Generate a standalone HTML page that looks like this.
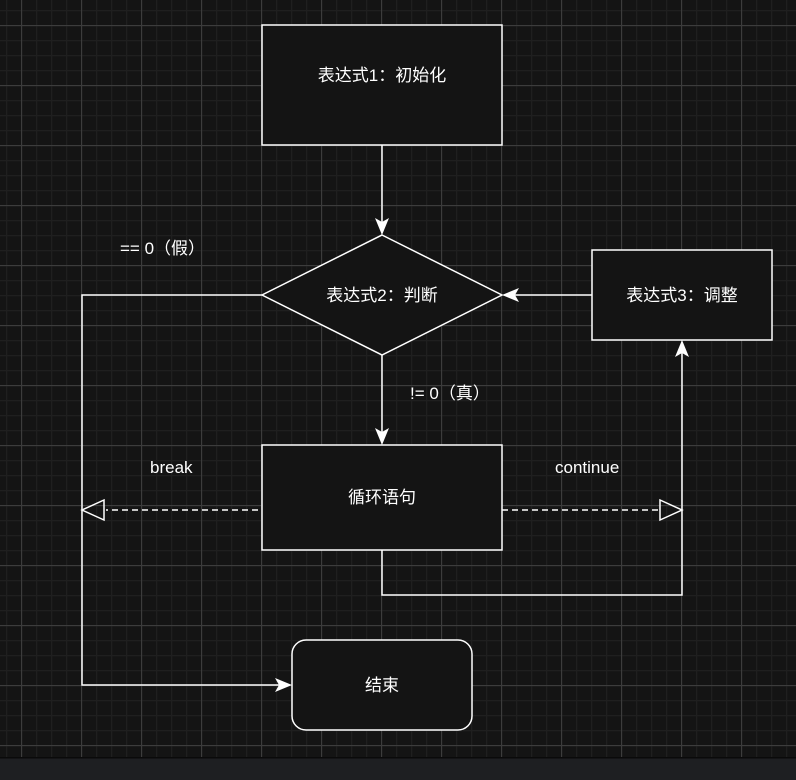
<!DOCTYPE html>
<html><head><meta charset="utf-8"><style>
html,body{margin:0;padding:0;background:#141414;}
svg{display:block;}
text{font-family:"Liberation Sans","Noto Sans CJK SC",sans-serif;fill:#fff;font-size:17px;}
</style></head><body>
<svg width="796" height="780" viewBox="0 0 796 780" xmlns="http://www.w3.org/2000/svg">
<defs>
<pattern id="minor" x="6" y="10" width="15" height="15" patternUnits="userSpaceOnUse">
<path d="M0 0.5H15M0.5 0V15" stroke="#1f1f1f" stroke-width="1.5" fill="none"/>
</pattern>
<pattern id="major" x="21" y="25" width="60" height="60" patternUnits="userSpaceOnUse">
<path d="M0 0.5H60M0.5 0V60" stroke="#3c3c3c" stroke-width="1.2" fill="none"/>
</pattern>
</defs>
<rect width="796" height="758" fill="#141414"/>
<rect width="796" height="758" fill="url(#minor)"/>
<rect width="796" height="758" fill="url(#major)"/>
<rect y="758" width="796" height="22" fill="#1e1f22"/>
<rect y="757" width="796" height="1.5" fill="#0a0a0a"/>

<g stroke="#fff" stroke-width="1.5" fill="#141414">
<rect x="262" y="25" width="240" height="120"/>
<polygon points="382,235 502,295 382,355 262,295"/>
<rect x="592" y="250" width="180" height="90"/>
<rect x="262" y="445" width="240" height="105"/>
<rect x="292" y="640" width="180" height="90" rx="14"/>
</g>
<g stroke="#fff" stroke-width="1.5" fill="none">
<path d="M382 145V228"/>
<path d="M592 295H509"/>
<path d="M382 355V438"/>
<path d="M262 295H82V685H285"/>
<path d="M382 550V595H682V347"/>
<path d="M258 510H106" stroke-dasharray="6,4"/>
<path d="M502 510H660" stroke-dasharray="6,4"/>
<polygon points="82,510 104,500 104,520" />
<polygon points="682,510 660,500 660,520" />
</g>
<g fill="#fff">
<polygon points="382,235 375,218 382,222 389,218"/>
<polygon points="502,295 519,288 515,295 519,302"/>
<polygon points="382,445 375,428 382,432 389,428"/>
<polygon points="292,685 275,678 279,685 275,692"/>
<polygon points="682,340 675,357 682,353 689,357"/>
</g>
<text x="382" y="81" text-anchor="middle">表达式1：初始化</text>
<text x="382" y="301" text-anchor="middle">表达式2：判断</text>
<text x="682" y="301" text-anchor="middle">表达式3：调整</text>
<text x="382" y="503" text-anchor="middle">循环语句</text>
<text x="382" y="691" text-anchor="middle">结束</text>
<text x="120" y="254">== 0（假）</text>
<text x="410" y="399">!= 0（真）</text>
<text x="150" y="473">break</text>
<text x="555" y="473">continue</text>
</svg>
</body></html>
